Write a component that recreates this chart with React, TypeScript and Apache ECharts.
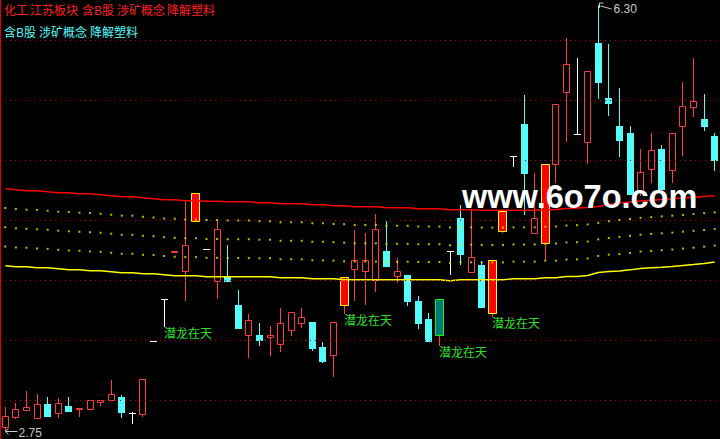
import React, { useEffect, useRef } from "react";
import * as echarts from "echarts";

// ---------- data ----------
const OPEN = [2.783,2.861,2.925,2.856,2.967,2.894,2.958,2.928,2.931,2.989,
 3.006,3.033,2.897,2.889,3.500,3.847,4.236,4.078,4.494,4.264,
 3.994,4.028,3.800,3.548,3.550,3.528,3.472,3.589,3.647,3.658,
 3.450,3.381,3.797,4.094,4.078,4.006,4.250,4.036,4.050,3.833,
 3.683,3.547,4.242,4.517,4.069,4.133,3.728,4.411,5.039,5.308,
 4.397,4.311,4.972,5.569,5.222,5.153,5.978,5.519,5.286,5.233,
 4.753,4.928,5.092,4.922,5.289,5.444,5.350,5.208];
const CLOSE = [2.867,2.931,2.942,2.967,2.869,2.981,2.911,2.939,3.006,3.008,
 3.056,2.903,2.897,3.181,3.500,3.847,4.242,4.300,4.733,4.264,
 4.431,3.994,3.603,3.673,3.506,3.542,3.647,3.739,3.692,3.436,
 3.333,3.656,4.033,4.167,4.167,4.431,4.125,4.083,3.828,3.644,
 3.500,3.847,4.242,4.219,4.197,3.783,4.167,4.583,5.039,4.892,
 4.522,4.972,5.472,5.806,5.222,5.747,5.653,5.478,5.169,4.717,
 4.906,5.089,4.761,5.231,5.456,5.500,5.286,5.008];
const HIGH = [2.944,2.983,3.083,3.056,3.033,3.025,3.033,2.939,3.006,3.008,
 3.175,3.050,2.908,3.181,3.500,3.847,4.242,4.667,4.733,4.264,
 4.494,4.292,3.925,3.722,3.650,3.617,3.767,3.739,3.767,3.658,
 3.489,3.656,4.033,4.425,4.392,4.556,4.494,4.189,4.050,3.875,
 3.733,3.847,4.242,4.633,4.597,4.161,4.167,4.583,5.039,5.550,
 4.897,4.972,5.472,6.019,5.858,5.747,6.300,5.967,5.606,5.289,
 5.100,5.231,5.133,5.231,5.658,5.858,5.558,5.228];
const LOW = [2.750,2.844,2.917,2.856,2.861,2.856,2.903,2.861,2.917,2.958,
 3.000,2.856,2.806,2.861,3.500,3.611,4.236,3.828,4.494,4.264,
 3.842,3.994,3.592,3.353,3.458,3.375,3.403,3.536,3.606,3.411,
 3.311,3.200,3.722,3.833,3.800,3.903,4.125,3.978,3.786,3.592,
 3.500,3.458,4.050,4.131,4.069,3.783,3.700,4.394,4.944,4.542,
 4.397,4.167,4.811,5.158,5.222,4.972,5.514,5.375,5.028,4.717,
 4.708,4.811,4.722,4.811,5.036,5.361,5.244,4.911];

const MA_RED = [4.764,4.756,4.748,4.748,4.739,4.731,4.731,4.723,4.723,4.714,
 4.706,4.698,4.698,4.689,4.681,4.673,4.673,4.664,4.664,4.661,
 4.661,4.656,4.656,4.656,4.648,4.648,4.639,4.639,4.639,4.631,
 4.631,4.623,4.623,4.614,4.614,4.614,4.606,4.606,4.606,4.598,
 4.598,4.598,4.589,4.589,4.589,4.586,4.586,4.586,4.586,4.586,
 4.586,4.589,4.592,4.600,4.604,4.608,4.617,4.633,4.646,4.654,
 4.663,4.669,4.675,4.681,4.688,4.694,4.700,4.706];
const MA_YELLOW = [4.123,4.114,4.114,4.106,4.106,4.098,4.089,4.089,4.081,4.081,
 4.073,4.064,4.064,4.056,4.056,4.048,4.039,4.039,4.039,4.031,
 4.031,4.031,4.031,4.031,4.031,4.031,4.023,4.023,4.023,4.014,
 4.014,4.014,4.006,4.006,4.006,4.006,4.006,4.006,4.006,4.006,
 4.006,4.006,3.998,4.006,4.006,4.006,4.006,4.006,4.014,4.014,
 4.014,4.023,4.023,4.033,4.033,4.042,4.067,4.075,4.079,4.089,
 4.100,4.106,4.111,4.117,4.125,4.133,4.142,4.154];
const BAND_UPPER = [4.604,4.596,4.590,4.588,4.581,4.573,4.571,4.565,4.563,4.556,
 4.548,4.540,4.540,4.531,4.525,4.517,4.515,4.508,4.508,4.504,
 4.504,4.500,4.500,4.500,4.494,4.494,4.485,4.485,4.485,4.477,
 4.477,4.471,4.469,4.462,4.462,4.462,4.456,4.456,4.456,4.450,
 4.450,4.450,4.441,4.443,4.443,4.441,4.441,4.441,4.443,4.443,
 4.443,4.448,4.450,4.458,4.461,4.467,4.480,4.494,4.504,4.513,
 4.522,4.528,4.534,4.540,4.547,4.554,4.561,4.568];
const BAND_MID = [4.444,4.435,4.431,4.427,4.423,4.415,4.410,4.406,4.402,4.398,
 4.390,4.381,4.381,4.373,4.369,4.361,4.356,4.352,4.352,4.346,
 4.346,4.344,4.344,4.344,4.340,4.340,4.331,4.331,4.331,4.323,
 4.323,4.319,4.315,4.310,4.310,4.310,4.306,4.306,4.306,4.302,
 4.302,4.302,4.294,4.298,4.298,4.296,4.296,4.296,4.300,4.300,
 4.300,4.306,4.308,4.317,4.319,4.325,4.342,4.354,4.363,4.372,
 4.382,4.388,4.393,4.399,4.407,4.414,4.421,4.430];
const BAND_LOWER = [4.283,4.275,4.273,4.267,4.264,4.256,4.250,4.248,4.242,4.239,
 4.231,4.223,4.223,4.214,4.212,4.204,4.198,4.195,4.195,4.189,
 4.189,4.187,4.187,4.187,4.185,4.185,4.177,4.177,4.177,4.168,
 4.168,4.166,4.160,4.158,4.158,4.158,4.156,4.156,4.156,4.154,
 4.154,4.154,4.146,4.152,4.152,4.151,4.151,4.151,4.157,4.157,
 4.157,4.165,4.165,4.175,4.176,4.184,4.205,4.215,4.221,4.230,
 4.241,4.247,4.252,4.258,4.266,4.273,4.282,4.292];

const GRID_PRICES = [3.0, 3.5, 4.0, 4.5, 5.0, 5.5, 6.0];
const SIGNAL_DAYS = [15, 32, 41, 46];
const SIGNAL_TEXT = "潜龙在天";
const YELLOW_BOX_DAYS = [18, 32, 46, 47, 51];
const GREEN_BOX_DAYS = [41];
const TAGS_LINE1 = ["化工", "江苏板块", "含B股", "涉矿概念", "降解塑料"];
const TAGS_LINE2 = ["含B股", "涉矿概念", "降解塑料"];
const WATERMARK = "www.6o7o.com";
const DAYS = OPEN.map((_, i) => String(i + 1));

// ---------- layout & styles ----------
const W = 720;
const H = 439;
const Y_MIN = 2.67917;
const Y_MAX = 6.3375;
const TAG1_X = [4, 30, 82, 117, 167];
const TAG2_X = [4, 39, 90];
const RED = "#ff3c3c";
const CYAN = "#54fcfc";
const WHITE = "#ffffff";
const YELLOW = "#ffff00";
const GRAY = "#c8c8c8";
const GREEN_TXT = "#2ee02e";
const CJK = '"Noto Sans CJK SC", "Noto Sans", sans-serif';

const MAX_IDX = HIGH.indexOf(Math.max(...HIGH));
const MIN_IDX = LOW.indexOf(Math.min(...LOW));

function seg(x1: number, y1: number, x2: number, y2: number, color: string) {
  return { type: "line", shape: { x1, y1, x2, y2 }, style: { stroke: color, lineWidth: 1 } };
}

function renderCandle(_params: any, api: any) {
  const i = api.value(0);
  const o = api.value(1);
  const c = api.value(2);
  const l = api.value(3);
  const h = api.value(4);
  const pO = api.coord([i, o]);
  const pC = api.coord([i, c]);
  const cx = Math.floor(pO[0]) + 0.5;
  const yH = Math.round(api.coord([i, h])[1]);
  const yL = Math.round(api.coord([i, l])[1]);
  const top = Math.round(Math.min(pO[1], pC[1]));
  const bot = Math.round(Math.max(pO[1], pC[1]));
  const children: any[] = [];

  if (o === c) {
    if (yL > yH) children.push(seg(cx, yH, cx, yL, WHITE));
    children.push(seg(cx - 3.5, top + 0.5, cx + 3.5, top + 0.5, WHITE));
  } else if (c > o) {
    if (top > yH) children.push(seg(cx, yH, cx, top, RED));
    if (yL > bot) children.push(seg(cx, bot + 1, cx, yL, RED));
    children.push({
      type: "rect",
      shape: { x: cx - 3, y: top + 0.5, width: 6, height: Math.max(bot - top, 1) },
      style: { fill: "#000000", stroke: RED, lineWidth: 1 },
    });
  } else {
    children.push(seg(cx, yH, cx, yL, CYAN));
    children.push({
      type: "rect",
      shape: { x: cx - 3.5, y: top, width: 7, height: Math.max(bot - top + 1, 1) },
      style: { fill: CYAN },
    });
  }

  if (YELLOW_BOX_DAYS.indexOf(i) >= 0 || GREEN_BOX_DAYS.indexOf(i) >= 0) {
    const isY = YELLOW_BOX_DAYS.indexOf(i) >= 0;
    children.push({
      type: "rect",
      shape: { x: cx - 4, y: top + 0.5, width: 8, height: Math.max(bot - top, 1) },
      style: { fill: isY ? "#ff0000" : "#007878", stroke: isY ? YELLOW : "#00ff00", lineWidth: 1 },
    });
  }

  if (SIGNAL_DAYS.indexOf(i) >= 0) {
    children.push({
      type: "text",
      x: cx - 0.5,
      y: yL - 1,
      style: {
        text: SIGNAL_TEXT,
        fill: GREEN_TXT,
        font: "12px " + CJK,
        align: "left",
        verticalAlign: "top",
        textAlign: "left",
        textVerticalAlign: "top",
      },
    });
  }

  if (i === MAX_IDX) {
    children.push(seg(cx + 1, yH - 2, cx + 1, yH + 3, GRAY));
    children.push(seg(cx + 1, yH - 2, cx + 5, yH - 2, GRAY));
    children.push(seg(cx + 2, yH + 1, cx + 13, yH + 4, GRAY));
    children.push({
      type: "text",
      x: cx + 15,
      y: yH + 4,
      style: {
        text: h.toFixed(2),
        fill: GRAY,
        font: '12px "Liberation Sans", Arial, sans-serif',
        align: "left",
        verticalAlign: "middle",
        textAlign: "left",
        textVerticalAlign: "middle",
      },
    });
  }
  if (i === MIN_IDX) {
    const ay = yL + 0.5;
    children.push(seg(cx, ay, cx + 12, ay, GRAY));
    children.push(seg(cx, ay, cx + 3, ay - 3, GRAY));
    children.push(seg(cx, ay, cx + 3, ay + 3, GRAY));
    children.push({
      type: "text",
      x: cx + 13,
      y: ay + 1,
      style: {
        text: l.toFixed(2),
        fill: GRAY,
        font: '12px "Liberation Sans", Arial, sans-serif',
        align: "left",
        verticalAlign: "middle",
        textAlign: "left",
        textVerticalAlign: "middle",
      },
    });
  }

  return { type: "group", children };
}

function tagTexts(words: string[], xs: number[], y: number, color: string) {
  return words.map((w, k) => ({
    type: "text",
    x: xs[k],
    y,
    z: 20,
    style: {
      text: w,
      fill: color,
      font: "12px " + CJK,
      align: "left",
      verticalAlign: "middle",
      textAlign: "left",
      textVerticalAlign: "middle",
    },
  }));
}

export default function App() {
  const ref = useRef<HTMLDivElement>(null);

  useEffect(() => {
    document.body.style.margin = "0";
    document.body.style.background = "#000";
    if (!ref.current) return;
    const chart = echarts.init(ref.current, null, { renderer: "svg" });
    const candleData = OPEN.map((o, i) => [i, o, CLOSE[i], LOW[i], HIGH[i]]);
    const dots = (data: number[]) => ({
      type: "scatter",
      data,
      symbol: "rect",
      symbolSize: 2,
      itemStyle: { color: "#e8e800" },
      silent: true,
      z: 5,
    });

    chart.setOption({
      animation: false,
      backgroundColor: "#000000",
      grid: { left: 0, right: 0, top: 0, bottom: 0 },
      xAxis: { type: "category", data: DAYS, boundaryGap: true, show: false },
      yAxis: { type: "value", min: Y_MIN, max: Y_MAX, show: false, splitLine: { show: false } },
      series: [
        {
          type: "line",
          data: [],
          z: 0,
          silent: true,
          markLine: {
            silent: true,
            symbol: ["none", "none"],
            label: { show: false },
            lineStyle: { color: "#b00000", type: [1, 4], width: 1 },
            data: GRID_PRICES.map((v) => ({ yAxis: v })),
          },
        },
        {
          type: "custom",
          data: candleData,
          encode: { x: 0, y: [1, 2, 3, 4] },
          renderItem: renderCandle,
          clip: false,
          z: 2,
          silent: true,
        },
        {
          type: "line",
          data: MA_RED,
          showSymbol: false,
          lineStyle: { color: "#ff0000", width: 1.4 },
          z: 3,
          silent: true,
        },
        {
          type: "line",
          data: MA_YELLOW,
          showSymbol: false,
          lineStyle: { color: YELLOW, width: 1.4 },
          z: 3,
          silent: true,
        },
        dots(BAND_UPPER),
        dots(BAND_MID),
        dots(BAND_LOWER),
      ],
      graphic: [
        { type: "rect", shape: { x: 0, y: 0, width: 1, height: H }, style: { fill: "#e00000" }, z: 20 },
        ...tagTexts(TAGS_LINE1, TAG1_X, 9.5, "#ff2020"),
        ...tagTexts(TAGS_LINE2, TAG2_X, 31.5, CYAN),
        {
          type: "text",
          x: 462,
          y: 197,
          z: 30,
          style: {
            text: WATERMARK,
            fill: "#ffffff",
            font: 'bold 32.5px "Liberation Sans", Arial, sans-serif',
            align: "left",
            verticalAlign: "middle",
            textAlign: "left",
            textVerticalAlign: "middle",
          },
        },
      ],
    });
    return () => chart.dispose();
  }, []);

  return <div ref={ref} style={{ width: W, height: H, background: "#000" }} />;
}
